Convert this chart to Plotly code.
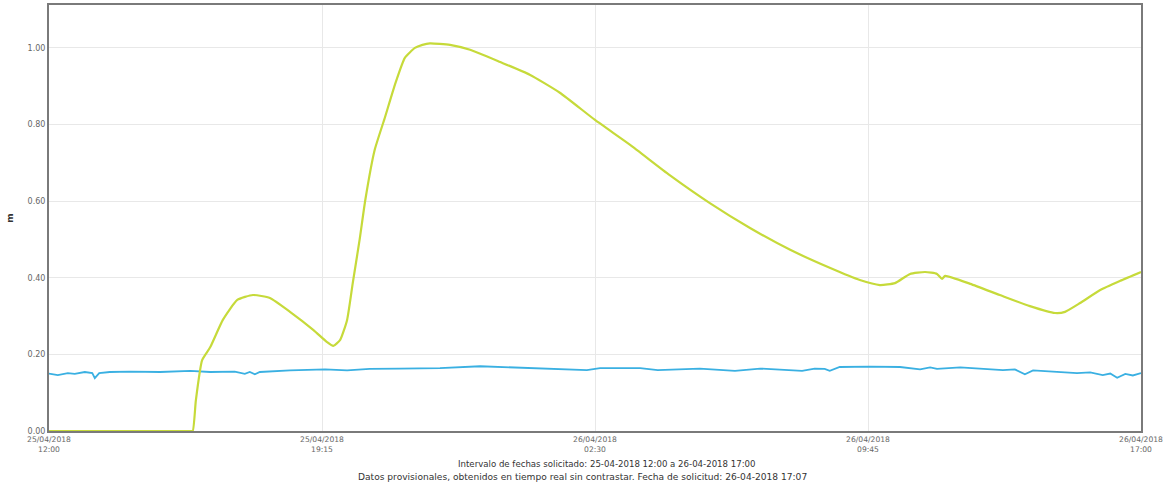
import plotly.graph_objects as go

# Green series (m)
green_times = [
    "2018-04-25 12:00", "2018-04-25 14:00", "2018-04-25 15:45", "2018-04-25 15:49",
    "2018-04-25 15:54",
    "2018-04-25 16:04", "2018-04-25 16:17", "2018-04-25 16:37", "2018-04-25 17:00",
    "2018-04-25 17:25", "2018-04-25 17:52", "2018-04-25 18:24", "2018-04-25 19:01",
    "2018-04-25 19:23", "2018-04-25 19:33", "2018-04-25 19:44", "2018-04-25 19:55",
    "2018-04-25 20:04", "2018-04-25 20:15", "2018-04-25 20:24", "2018-04-25 20:39",
    "2018-04-25 20:55", "2018-04-25 21:11", "2018-04-25 21:27", "2018-04-25 21:43",
    "2018-04-25 21:55", "2018-04-25 22:07", "2018-04-25 22:39", "2018-04-25 23:11",
    "2018-04-25 23:59", "2018-04-26 00:46", "2018-04-26 01:34", "2018-04-26 02:30",
    "2018-04-26 03:26", "2018-04-26 04:29", "2018-04-26 05:33", "2018-04-26 06:37",
    "2018-04-26 07:41", "2018-04-26 08:44", "2018-04-26 09:32", "2018-04-26 10:04",
    "2018-04-26 10:28", "2018-04-26 10:52", "2018-04-26 11:16", "2018-04-26 11:35",
    "2018-04-26 11:43", "2018-04-26 11:48", "2018-04-26 12:28", "2018-04-26 13:15",
    "2018-04-26 14:03", "2018-04-26 14:43", "2018-04-26 14:59", "2018-04-26 15:23",
    "2018-04-26 15:55", "2018-04-26 16:27", "2018-04-26 17:00",
]
green_values = [
    0.0, 0.0, 0.0, 0.0,
    0.08,
    0.185, 0.219, 0.29, 0.342,
    0.355, 0.347, 0.311, 0.264,
    0.232, 0.222, 0.238, 0.29,
    0.386, 0.50, 0.603, 0.734,
    0.817, 0.903, 0.974, 1.0,
    1.008, 1.012, 1.008, 0.995,
    0.963, 0.93, 0.883, 0.812,
    0.747, 0.668, 0.595, 0.53,
    0.473, 0.426, 0.394, 0.381,
    0.386, 0.41, 0.415, 0.41,
    0.397, 0.405, 0.384, 0.355,
    0.326, 0.308, 0.311, 0.334,
    0.368, 0.392, 0.415,
]

# Blue series (m)
blue_times = [
    "2018-04-25 12:00", "2018-04-25 12:14", "2018-04-25 12:30", "2018-04-25 12:41",
    "2018-04-25 12:57", "2018-04-25 13:09", "2018-04-25 13:13", "2018-04-25 13:20",
    "2018-04-25 13:37", "2018-04-25 14:09", "2018-04-25 14:57", "2018-04-25 15:45",
    "2018-04-25 16:17", "2018-04-25 16:56", "2018-04-25 17:12", "2018-04-25 17:20",
    "2018-04-25 17:28", "2018-04-25 17:36", "2018-04-25 18:24", "2018-04-25 19:20",
    "2018-04-25 19:55", "2018-04-25 20:31", "2018-04-25 21:19", "2018-04-25 22:23",
    "2018-04-25 23:27", "2018-04-26 00:30", "2018-04-26 01:34", "2018-04-26 02:17",
    "2018-04-26 02:38", "2018-04-26 03:42", "2018-04-26 04:10", "2018-04-26 05:17",
    "2018-04-26 06:13", "2018-04-26 06:53", "2018-04-26 08:00", "2018-04-26 08:20",
    "2018-04-26 08:36", "2018-04-26 08:44", "2018-04-26 09:00", "2018-04-26 09:48",
    "2018-04-26 10:36", "2018-04-26 11:08", "2018-04-26 11:24", "2018-04-26 11:35",
    "2018-04-26 12:12", "2018-04-26 12:39", "2018-04-26 13:20", "2018-04-26 13:39",
    "2018-04-26 13:55", "2018-04-26 14:08", "2018-04-26 14:35", "2018-04-26 14:59",
    "2018-04-26 15:18", "2018-04-26 15:39", "2018-04-26 15:59", "2018-04-26 16:11",
    "2018-04-26 16:22", "2018-04-26 16:35", "2018-04-26 16:47", "2018-04-26 17:00",
]
blue_values = [
    0.150, 0.146, 0.151, 0.149,
    0.154, 0.151, 0.138, 0.151,
    0.154, 0.155, 0.154, 0.157,
    0.154, 0.155, 0.149, 0.154,
    0.148, 0.154, 0.158, 0.161,
    0.158, 0.162, 0.163, 0.164,
    0.169, 0.166, 0.163, 0.159,
    0.164, 0.164, 0.159, 0.163,
    0.157, 0.163, 0.157, 0.163,
    0.162, 0.157, 0.167, 0.168,
    0.167, 0.161, 0.166, 0.162,
    0.166, 0.163, 0.159, 0.161,
    0.148, 0.158, 0.155, 0.153,
    0.151, 0.153, 0.146, 0.150,
    0.139, 0.149, 0.145, 0.151,
]

x_tick_vals = ["2018-04-25 12:00", "2018-04-25 19:15", "2018-04-26 02:30",
               "2018-04-26 09:45", "2018-04-26 17:00"]
x_tick_text = ["25/04/2018<br>12:00", "25/04/2018<br>19:15", "26/04/2018<br>02:30",
               "26/04/2018<br>09:45", "26/04/2018<br>17:00"]
y_tick_vals = [0.0, 0.2, 0.4, 0.6, 0.8, 1.0]

fig = go.Figure()
fig.add_trace(go.Scatter(x=blue_times, y=blue_values, mode="lines",
                         line=dict(color="#3ab0e2", width=1.8), showlegend=False))
fig.add_trace(go.Scatter(x=green_times, y=green_values, mode="lines",
                         line=dict(color="#c6da3a", width=2.2, shape="spline", smoothing=0.5),
                         showlegend=False))

fig.update_layout(
    width=1170, height=488,
    margin=dict(l=49, r=29, t=5, b=57),
    paper_bgcolor="white", plot_bgcolor="white",
    font=dict(family="DejaVu Sans", size=8, color="#666666"),
    xaxis=dict(
        type="date", range=["2018-04-25 12:00", "2018-04-26 17:00"],
        tickvals=x_tick_vals, ticktext=x_tick_text, tickangle=0,
        showgrid=True, gridcolor="#e8e8e8", gridwidth=1,
        showline=True, linecolor="#7a7a7a", linewidth=2, mirror=True,
        layer="below traces", zeroline=False, ticks="", ticklen=0,
        tickfont=dict(size=7.6, color="#666666"), automargin=False,
    ),
    yaxis=dict(
        range=[0, 1.112], tickvals=y_tick_vals, tickformat=".2f",
        showgrid=True, gridcolor="#e8e8e8", gridwidth=1,
        showline=True, linecolor="#7a7a7a", linewidth=2, mirror=True,
        layer="below traces", zeroline=False, ticks="", ticklen=0,
        tickfont=dict(size=8, color="#666666"), automargin=False,
        title=dict(text="<b>m</b>", font=dict(size=9, color="#333333"), standoff=12),
    ),
    annotations=[
        dict(text="Intervalo de fechas solicitado: 25-04-2018 12:00 a 26-04-2018 17:00",
             xref="paper", yref="paper", x=0.511, y=-0.078, xanchor="center", yanchor="middle",
             showarrow=False, font=dict(family="DejaVu Sans", size=8.6, color="#333333")),
        dict(text="Datos provisionales, obtenidos en tiempo real sin contrastar. Fecha de solicitud: 26-04-2018 17:07",
             xref="paper", yref="paper", x=0.489, y=-0.107, xanchor="center", yanchor="middle",
             showarrow=False, font=dict(family="DejaVu Sans", size=9.1, color="#333333")),
    ],
)

fig.write_html("out.html", config={"displayModeBar": False},
               post_script="document.body.style.margin='0px';")
